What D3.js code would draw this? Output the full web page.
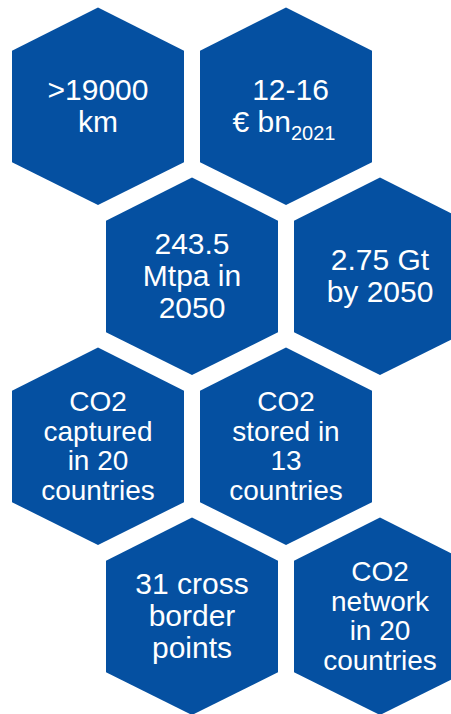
<!DOCTYPE html>
<html>
<head>
<meta charset="utf-8">
<script src="https://cdn.jsdelivr.net/npm/d3@7"></script>
<style>
html,body{margin:0;padding:0;background:#fff;}
svg{display:block;}
</style>
</head>
<body>
<script>
// Data
const labels = [
  ">19000\nkm",
  "12-16\n€ bn_2021",
  "243.5\nMtpa in\n2050",
  "2.75 Gt\nby 2050",
  "CO2\ncaptured\nin 20\ncountries",
  "CO2\nstored in\n13\ncountries",
  "31 cross\nborder\npoints",
  "CO2\nnetwork\nin 20\ncountries"
];
const rows = [0, 0, 1, 1, 2, 2, 3, 3];
const cols = [0, 1, 0, 1, 0, 1, 0, 1];

const W = 451, H = 714;
const svg = d3.select("body").append("svg").attr("width", W).attr("height", H);

const slot = d3.scaleLinear().domain([0, 1]).range([98, 192]); // half-column step
const yRow = d3.scaleLinear().domain([0, 1]).range([106.2, 276.2]);

const hw = 86, ht = 98.8, hs = 56;
const hexPts = [[0,-ht],[hw,-hs+0.5],[hw,hs],[0,ht],[-hw,hs],[-hw,-hs+0.5]];
const line = d3.line().curve(d3.curveLinearClosed);

const items = labels.map((t, i) => ({
  lines: t.split("\n"),
  cx: slot(2 * cols[i] + (rows[i] % 2)),
  cy: yRow(rows[i])
}));

const g = svg.selectAll("g.hex").data(items).join("g")
  .attr("class", "hex")
  .attr("transform", d => `translate(${d.cx},${d.cy})`);

g.append("path").attr("d", line(hexPts)).attr("fill", "#0550A1");

g.each(function(d) {
  const n = d.lines.length;
  const fs = n >= 4 ? 28 : 30;
  const lh = fs * 1.055;
  const first = -(n - 1) / 2 * lh + fs * 0.33;
  const t = d3.select(this).append("text")
    .attr("text-anchor", "middle")
    .attr("fill", "#fff")
    .attr("font-family", "Liberation Sans, Arial, sans-serif")
    .attr("font-size", fs);
  d.lines.forEach((ln, k) => {
    const parts = ln.split("_");
    const ts = t.append("tspan").attr("x", parts.length > 1 ? -2 : (k === 0 && d.lines[1] && d.lines[1].includes("_") ? 4.5 : 0)).attr("y", first + k * lh).text(parts[0]);
    if (parts.length > 1) {
      t.append("tspan").attr("font-size", 20).attr("dy", 8).text(parts[1]);
    }
  });
});
</script>
</body>
</html>
